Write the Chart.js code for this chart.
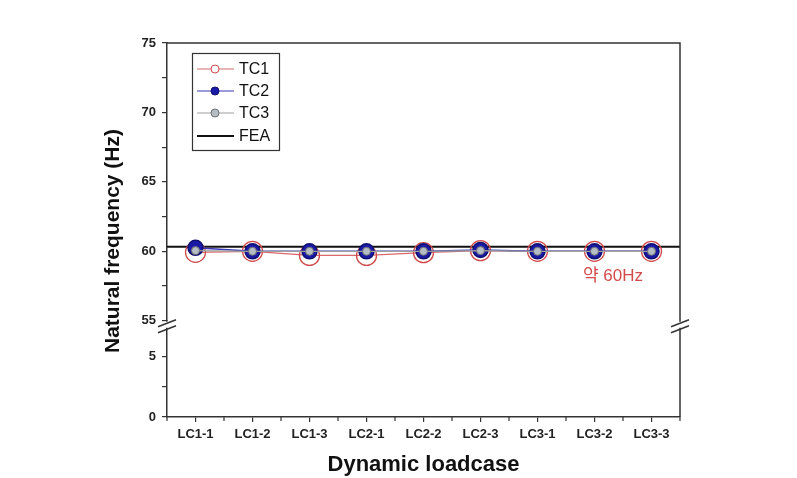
<!DOCTYPE html>
<html>
<head>
<meta charset="utf-8">
<script src="https://cdn.jsdelivr.net/npm/chart.js@4"></script>
<style>
  html, body { margin: 0; padding: 0; background: #fff; }
  #wrap { width: 797px; height: 478px; }
</style>
</head>
<body>
<div id="wrap"><canvas id="freqChart" width="797" height="478"></canvas></div>
<script>
// Data
const categories = ['LC1-1', 'LC1-2', 'LC1-3', 'LC2-1', 'LC2-2', 'LC2-3', 'LC3-1', 'LC3-2', 'LC3-3'];
const tc1 = [59.93, 60.0, 59.7, 59.7, 59.9, 60.05, 60.0, 60.0, 60.0];
const tc2 = [60.25, 60.0, 60.0, 60.0, 60.0, 60.1, 60.0, 60.0, 60.0];
const tc3 = [60.05, 60.0, 60.0, 60.0, 60.0, 60.05, 60.0, 60.0, 60.0];
const feaValue = 60.33;
const upperTicks = [55, 57.5, 60, 62.5, 65, 67.5, 70, 72.5, 75];
const lowerTicks = [0, 2.5, 5];
const labelEvery = 5;

const FONT = "'Liberation Sans', Arial, sans-serif";
const AXIS = '#333';

// Frame, axis break marks, y title, legend and note
const decorPlugin = {
    id: 'decor',
    afterDraw(chart) {
        const ctx = chart.ctx;
        const a = chart.chartArea;
        ctx.save();
        ctx.strokeStyle = AXIS;
        ctx.lineWidth = 1.5;
        ctx.beginPath();
        ctx.moveTo(a.left, a.top);
        ctx.lineTo(a.right, a.top);
        ctx.lineTo(a.right, a.bottom);
        ctx.stroke();

        // minor ticks between categories
        const xs = chart.scales.x;
        ctx.lineWidth = 1.2;
        for (let i = 0; i <= categories.length; i++) {
            const px = xs.getPixelForValue(i - 0.5);
            ctx.beginPath();
            ctx.moveTo(px, a.bottom);
            ctx.lineTo(px, a.bottom + 4);
            ctx.stroke();
        }

        // axis break marks
        const yb = chart.scales.y.bottom;
        [a.left, a.right].forEach(x0 => {
            ctx.fillStyle = '#fff';
            ctx.fillRect(x0 - 3, yb + 1, 6, 6);
            ctx.strokeStyle = AXIS;
            ctx.lineWidth = 1.5;
            [0, 6].forEach(d => {
                ctx.beginPath();
                ctx.moveTo(x0 - 9, yb + 6 + d);
                ctx.lineTo(x0 + 9, yb - 1 + d);
                ctx.stroke();
            });
        });

        // y title
        ctx.fillStyle = '#111';
        ctx.font = 'bold 21px ' + FONT;
        ctx.textAlign = 'center';
        ctx.textBaseline = 'middle';
        ctx.translate(113, 241);
        ctx.rotate(-Math.PI / 2);
        ctx.fillText('Natural frequency (Hz)', 0, 0);
        ctx.restore();

        // legend
        ctx.save();
        const lx = a.left + 25, ly = 53;
        ctx.strokeStyle = AXIS;
        ctx.lineWidth = 1.2;
        ctx.strokeRect(lx + 0.5, ly + 0.5, 87, 97);
        const rows = [69, 91, 113, 136];
        chart.data.datasets.forEach((ds, i) => {
            const y = rows[i];
            ctx.strokeStyle = ds.borderColor;
            ctx.lineWidth = i === 3 ? 2 : 1.2;
            ctx.beginPath();
            ctx.moveTo(lx + 5, y);
            ctx.lineTo(lx + 42, y);
            ctx.stroke();
            if (i < 3) {
                ctx.beginPath();
                ctx.arc(lx + 23, y, 4, 0, Math.PI * 2);
                ctx.fillStyle = i === 0 ? '#fff' : ds.pointBackgroundColor;
                ctx.fill();
                ctx.strokeStyle = ds.pointBorderColor;
                ctx.lineWidth = 1;
                ctx.stroke();
            }
            ctx.fillStyle = '#111';
            ctx.font = '16px ' + FONT;
            ctx.textAlign = 'left';
            ctx.textBaseline = 'middle';
            ctx.fillText(ds.label, lx + 47, y + 1);
        });

        // note
        ctx.fillStyle = '#d34a4a';
        ctx.font = "17px 'Liberation Sans', 'Noto Sans CJK KR', sans-serif";
        ctx.textAlign = 'left';
        ctx.textBaseline = 'middle';
        ctx.fillText('약 60Hz', 583, 276);
        ctx.restore();
    }
};

const tickFont = { family: FONT, size: 13, weight: 'bold' };

new Chart(document.getElementById('freqChart'), {
    type: 'line',
    data: {
        labels: categories,
        datasets: [{
            label: 'TC1',
            data: tc1,
            borderColor: '#d86a6a',
            borderWidth: 1.2,
            pointRadius: 10,
            pointBorderWidth: 1.3,
            pointBackgroundColor: 'rgba(255,255,255,0)',
            pointBorderColor: '#d04a4a',
            order: 3
        }, {
            label: 'TC2',
            data: tc2,
            borderColor: '#3a3ab8',
            borderWidth: 1.5,
            pointRadius: 7.5,
            pointBorderWidth: 1.5,
            pointBackgroundColor: '#1a1aa8',
            pointBorderColor: '#101070',
            order: 2
        }, {
            label: 'TC3',
            data: tc3,
            borderColor: '#a0a0a0',
            borderWidth: 1.2,
            pointRadius: 4,
            pointBorderWidth: 1,
            pointBackgroundColor: '#b4bcc4',
            pointBorderColor: '#707070',
            order: 1
        }, {
            label: 'FEA',
            data: [{ x: 0, y: feaValue }, { x: 1, y: feaValue }],
            xAxisID: 'xFull',
            borderColor: '#111',
            borderWidth: 2,
            pointRadius: 0,
            order: 4
        }]
    },
    options: {
        responsive: false,
        animation: false,
        layout: { padding: { top: 43, right: 117, bottom: 0, left: 0 } },
        plugins: {
            legend: { display: false },
            tooltip: { enabled: false }
        },
        scales: {
            x: {
                type: 'category',
                offset: true,
                grid: { offset: false, drawOnChartArea: false, tickLength: 5, color: AXIS, lineWidth: 1.2 },
                border: { color: AXIS, width: 1.5 },
                ticks: { font: tickFont, color: '#222', padding: 5, maxRotation: 0, autoSkip: false },
                title: {
                    display: true,
                    text: 'Dynamic loadcase',
                    color: '#111',
                    font: { family: FONT, size: 22, weight: 'bold' },
                    padding: { top: 0, bottom: 0 }
                },
                afterFit: s => { s.height = 61; }
            },
            xFull: { type: 'linear', display: false, min: 0, max: 1 },
            y: {
                position: 'left',
                stack: 'freq',
                stackWeight: 277,
                weight: 2,
                min: 55,
                max: 75,
                afterBuildTicks: s => { s.ticks = upperTicks.map(v => ({ value: v })); },
                grid: { drawOnChartArea: false, tickLength: 5, color: AXIS, lineWidth: 1.2 },
                border: { color: AXIS, width: 1.5 },
                ticks: {
                    font: tickFont, color: '#222', padding: 6,
                    callback: v => (v % labelEvery === 0 ? v : '')
                },
                afterFit: s => { s.width = 167; }
            },
            yLow: {
                position: 'left',
                stack: 'freq',
                stackWeight: 96,
                weight: 1,
                min: 0,
                max: 8,
                afterBuildTicks: s => { s.ticks = lowerTicks.map(v => ({ value: v })); },
                grid: { drawOnChartArea: false, tickLength: 5, color: AXIS, lineWidth: 1.2 },
                border: { color: AXIS, width: 1.5 },
                ticks: {
                    font: tickFont, color: '#222', padding: 6,
                    callback: v => (v % labelEvery === 0 ? v : '')
                },
                afterFit: s => { s.width = 167; }
            }
        }
    },
    plugins: [decorPlugin]
});
</script>
</body>
</html>
